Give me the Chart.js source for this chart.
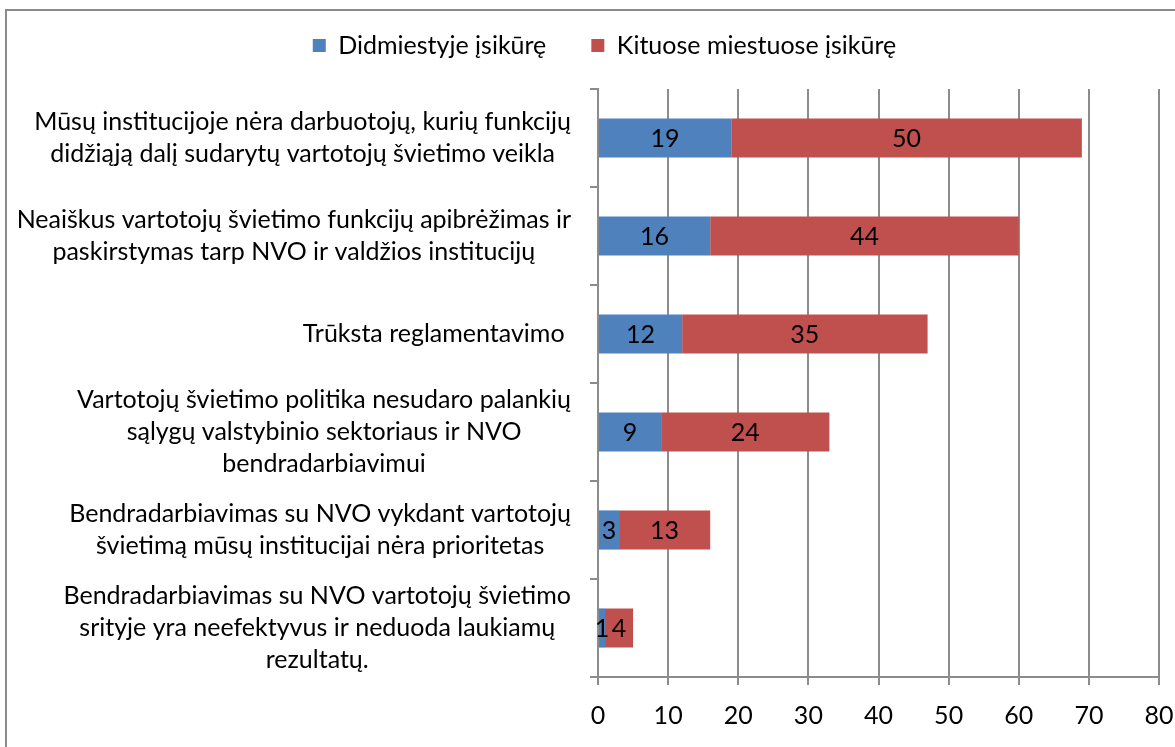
<!DOCTYPE html>
<html>
<head>
<meta charset="utf-8">
<script src="https://cdn.jsdelivr.net/npm/chart.js@4"></script>
<style>
  body { margin: 0; background: #fff; overflow: hidden; }
  .frame {
    position: absolute; left: 5px; top: 9px; width: 1300px; height: 900px;
    border: 2px solid #8a8a8a; box-sizing: border-box;
  }
  .chart-container { position: absolute; left: 0; top: 0; width: 1175px; height: 747px; }
</style>
</head>
<body>
<div class="frame"></div>
<div class="chart-container"><canvas id="bar-chart"></canvas></div>
<script>
// Data
const categories = [
  ["Mūsų institucijoje nėra darbuotojų, kurių funkcijų", "didžiąją dalį sudarytų vartotojų švietimo veikla"],
  ["Neaiškus vartotojų švietimo funkcijų apibrėžimas ir", "paskirstymas tarp NVO ir valdžios institucijų"],
  ["Trūksta reglamentavimo "],
  ["Vartotojų švietimo politika nesudaro palankių", "sąlygų valstybinio sektoriaus ir NVO", "bendradarbiavimui"],
  ["Bendradarbiavimas su NVO vykdant vartotojų", "švietimą mūsų institucijai nėra prioritetas"],
  ["Bendradarbiavimas su NVO vartotojų švietimo", "srityje yra neefektyvus ir neduoda laukiamų", "rezultatų."],
];
const seriesNames = ["Didmiestyje įsikūrę", "Kituose miestuose įsikūrę"];
const bigCity = [19, 16, 12, 9, 3, 1];
const otherCities = [50, 44, 35, 24, 13, 4];
const xTicks = [0, 10, 20, 30, 40, 50, 60, 70, 80];

const FONT = "Lato, 'Open Sans', sans-serif";
const FONT_SIZE = 25;
const GRID = "#8c8c8c";
const PLOT_TOP = 89;
const LEGEND_SHIFT = 25;

// Draw value labels in the middle of each bar segment
const valueLabels = {
  id: "valueLabels",
  afterDatasetsDraw(chart) {
    const ctx = chart.ctx;
    ctx.save();
    ctx.font = FONT_SIZE + "px " + FONT;
    ctx.fillStyle = "#000";
    ctx.textAlign = "center";
    ctx.textBaseline = "middle";
    chart.data.datasets.forEach((ds, di) => {
      const meta = chart.getDatasetMeta(di);
      meta.data.forEach((bar, i) => {
        const x = (bar.x + bar.base) / 2;
        ctx.fillText(String(ds.data[i]), x, bar.y + 1);
      });
    });
    ctx.restore();
  },
};

// Category labels: block right-aligned to the axis, lines centred within the block
const categoryLabels = {
  id: "categoryLabels",
  afterDraw(chart) {
    const ctx = chart.ctx;
    const yScale = chart.scales.y;
    const right = chart.chartArea.left - 27;
    const lineHeight = 32;
    ctx.save();
    ctx.font = FONT_SIZE + "px " + FONT;
    ctx.fillStyle = "#000";
    ctx.textAlign = "center";
    ctx.textBaseline = "middle";
    categories.forEach((lines, i) => {
      const y = yScale.getPixelForValue(i);
      const maxW = Math.max(...lines.map((l) => ctx.measureText(l).width));
      const cx = right - maxW / 2;
      lines.forEach((line, j) => {
        ctx.fillText(line, cx, y + (j - (lines.length - 1) / 2) * lineHeight);
      });
    });
    ctx.restore();
  },
};

// Legend sits high and a bit right of centre; plot area starts at a fixed line below it
const legendPlacement = {
  id: "legendPlacement",
  beforeLayout(chart) {
    const legend = chart.legend;
    if (legend && !legend._patched) {
      const fit = legend.fit;
      legend.fit = function () {
        fit.call(this);
        this.height = PLOT_TOP + 12;
      };
      const draw = legend.draw;
      legend.draw = function () {
        this.ctx.save();
        this.ctx.translate(LEGEND_SHIFT, 0);
        draw.call(this);
        this.ctx.restore();
      };
      legend._patched = true;
    }
  },
};

const ctx = document.getElementById("bar-chart").getContext("2d");
new Chart(ctx, {
  type: "bar",
  data: {
    labels: categories.map((c) => c.join(" ")),
    datasets: [
      {
        label: seriesNames[0],
        data: bigCity,
        backgroundColor: "#4f81bd",
        categoryPercentage: 1,
        barPercentage: 0.4,
      },
      {
        label: seriesNames[1],
        data: otherCities,
        backgroundColor: "#c0504d",
        categoryPercentage: 1,
        barPercentage: 0.4,
      },
    ],
  },
  options: {
    indexAxis: "y",
    responsive: true,
    maintainAspectRatio: false,
    animation: false,
    layout: { padding: { top: -12, right: 16, bottom: 0, left: 0 } },
    plugins: {
      legend: {
        display: true,
        position: "top",
        labels: {
          font: { size: FONT_SIZE, family: FONT },
          color: "#000",
          boxWidth: 13,
          boxHeight: 13,
          padding: 45,
        },
      },
      tooltip: { enabled: false },
    },
    scales: {
      x: {
        stacked: true,
        min: 0,
        max: 80,
        afterBuildTicks(scale) {
          scale.ticks = xTicks.map((v) => ({ value: v }));
        },
        afterFit(scale) {
          scale.height = 70;
          scale.paddingRight = 0;
          scale.paddingLeft = 0;
        },
        grid: { color: GRID, lineWidth: 2, tickLength: 8 },
        border: { color: GRID, width: 2 },
        ticks: {
          color: "#000",
          font: { size: FONT_SIZE, family: FONT },
          padding: 16,
        },
      },
      y: {
        stacked: true,
        afterFit(scale) {
          scale.width = 598;
        },
        grid: { offset: true, drawOnChartArea: false, color: GRID, lineWidth: 2, tickLength: 8 },
        border: { color: GRID, width: 2 },
        ticks: { display: false },
      },
    },
  },
  plugins: [valueLabels, categoryLabels, legendPlacement],
});
</script>
</body>
</html>
